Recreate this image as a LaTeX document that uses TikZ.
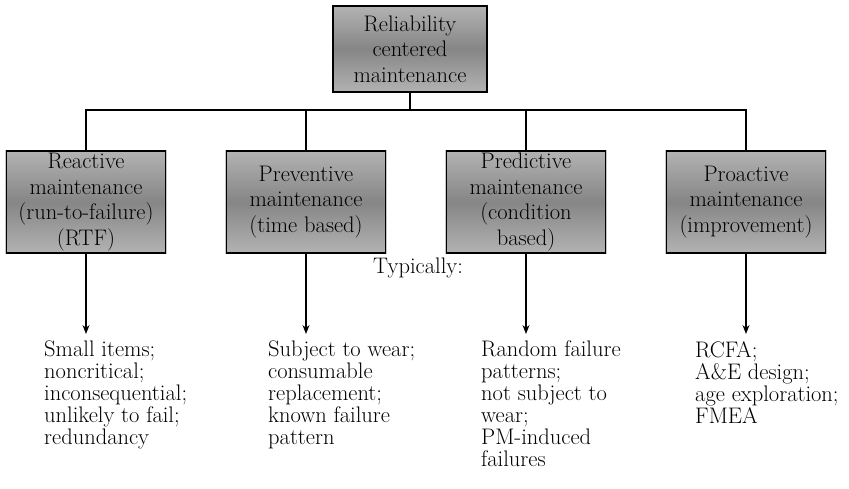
\documentclass[tikz,border=0pt]{standalone}
\usetikzlibrary{arrows.meta}
\begin{document}
\begin{tikzpicture}[x=1pt,y=-1pt,
  box/.style={draw=black, line width=1.3pt,
    preaction={draw=gray!45, line width=2.8pt},
    top color=gray!60, bottom color=gray!60, middle color=gray!95,
    minimum width=159pt, minimum height=102pt, inner sep=0pt,
    align=center, font=\fontsize{22.5}{25.5}\selectfont},
  conn/.style={line width=1.1pt, black},
  arr/.style={line width=1.1pt, black, -{Stealth[length=9pt,width=7pt]}},
  lst/.style={anchor=north west, inner sep=0pt, align=left,
    font=\fontsize{22.5}{22}\selectfont}
]
\useasboundingbox (0,0) rectangle (849,489);
\node[box, minimum width=154pt, minimum height=86pt] (top) at (410,49)
  {Reliability\\centered\\maintenance};
\node[box] (b1) at (86,202) {Reactive\\maintenance\\(run-to-failure)\\(RTF)};
\node[box] (b2) at (306,202) {Preventive\\maintenance\\(time based)};
\node[box] (b3) at (526,202) {Predictive\\maintenance\\(condition\\based)};
\node[box] (b4) at (746,202) {Proactive\\maintenance\\(improvement)};
\coordinate (bus) at (410,110);
\draw[conn] (top.south) -- (bus);
\draw[conn] (b1.north) |- (bus) -| (b4.north);
\draw[conn] (b2.north) |- (bus);
\draw[conn] (b3.north) |- (bus);
\coordinate (e1) at (86,334);
\coordinate (e2) at (306,334);
\coordinate (e3) at (526,334);
\coordinate (e4) at (746,334);
\draw[arr] (b1.south) -- (e1);
\draw[arr] (b2.south) -- (e2);
\draw[arr] (b3.south) -- (e3);
\draw[arr] (b4.south) -- (e4);
\node[lst] (typ) at (373,258) {Typically:};
\node[lst] (l1) at (44,341) {Small items;\\noncritical;\\inconsequential;\\unlikely to fail;\\redundancy};
\node[lst] (l2) at (268,341) {Subject to wear;\\consumable\\replacement;\\known failure\\pattern};
\node[lst] (l3) at (481,341) {Random failure\\patterns;\\not subject to\\wear;\\PM-induced\\failures};
\node[lst] (l4) at (695,341) {RCFA;\\A\&E design;\\age exploration;\\FMEA};
\end{tikzpicture}
\end{document}
